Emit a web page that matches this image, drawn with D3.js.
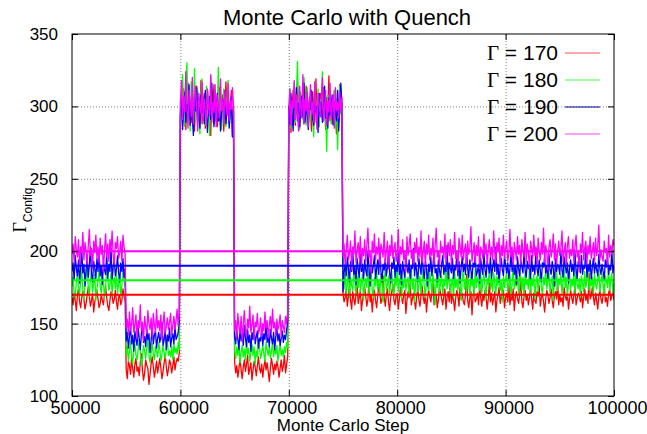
<!DOCTYPE html>
<html><head><meta charset="utf-8">
<script src="https://cdn.jsdelivr.net/npm/d3@7"></script>
<style>body{margin:0;background:#fff;overflow:hidden}</style>
</head><body>
<svg id="c" width="647" height="434"></svg>
<script>
const xStart = 50000, xStep = 100;
const gammas = [170, 180, 190, 200];
const seriesColors = ["#ff0000", "#00ff00", "#0000ff", "#ff00ff"];
const legendColors = ["#ff5050", "#40ff40", "#0000a0", "#ff40ff"];
const xTicks = [50000, 60000, 70000, 80000, 90000, 100000];
const yTicks = [100, 150, 200, 250, 300, 350];

const red170 = [
168,163,171,166,159,170,174,165,161,168, 172,167,160,164,170,175,169,162,166,171, 158,165,169,173,167,161,164,170,166,163, 171,176,168,162,159,166,172,169,164,167, 173,165,160,168,170,163,166,174,169,165,
118,112,124,121,115,127,119,113,122,126, 117,120,114,123,129,118,111,116,125,121, 119,108,115,122,127,120,113,118,124,116, 121,126,119,112,117,123,128,120,114,119, 125,122,116,121,127,118,123,126,124,130,
296,308,287,312,299,284,305,316,293,301, 289,310,298,283,306,314,291,300,295,318, 288,303,309,285,297,311,294,302,280,307, 299,315,290,304,286,301,313,296,292,308, 283,300,317,294,305,289,298,311,279,300,
124,116,121,113,119,126,118,112,120,125, 117,122,128,115,119,123,111,118,124,120, 114,121,127,119,116,122,113,120,125,118, 123,117,110,119,126,121,115,122,118,124, 120,113,119,125,117,121,128,116,122,127,
290,305,282,298,311,294,287,303,316,299, 285,308,293,301,288,296,314,302,291,306, 297,283,310,300,289,319,295,304,286,309, 298,292,313,301,284,306,296,321,290,303, 288,299,311,294,281,305,297,315,300,302,
171,165,168,174,162,169,176,166,160,172, 167,163,170,178,164,168,173,159,166,171, 175,169,162,167,180,165,170,158,168,173, 166,161,169,176,171,164,167,183,168,162, 170,174,165,159,168,172,177,166,163,169,
171,160,167,175,168,164,170,173,157,166, 172,168,179,163,167,171,165,160,169,174, 166,162,170,176,168,164,171,158,167,173, 169,165,172,181,163,168,170,161,166,175, 171,167,163,169,174,160,168,172,165,177,
164,170,166,159,168,173,169,162,175,167, 171,165,163,170,184,166,161,168,172,156, 169,174,165,167,171,163,176,168,162,170, 166,173,169,160,167,178,165,171,163,168, 172,158,166,170,175,164,169,167,173,161,
168,171,165,177,163,170,166,174,159,168, 172,167,164,170,182,165,161,169,173,166, 170,163,168,175,167,160,171,166,164,172, 169,176,162,168,171,165,158,167,173,170, 164,168,174,166,161,169,172,167,179,163,
170,165,168,162,175,169,166,171,160,167, 173,168,164,170,176,163,167,171,169,165, 172,161,168,174,166,170,164,185,167,169, 175,168,163,171,166,160,169,173,167,164, 170,177,165,168,162,171,174,166,169,172,
166
];

const green180 = [
176,182,171,168,179,185,174,170,180,188, 173,167,177,183,190,175,169,181,186,172, 178,184,166,174,180,187,176,171,183,179, 168,175,189,181,173,177,185,170,179,182, 174,186,171,178,183,169,176,188,180,175,
129,134,124,131,138,127,122,133,136,128, 125,132,139,130,121,127,135,131,126,133, 140,128,123,130,136,129,125,134,131,127, 137,132,124,129,135,130,126,133,138,128, 131,127,134,125,136,130,133,129,137,132,
305,291,322,298,286,314,330,295,308,283, 317,300,292,326,289,303,311,296,281,309, 319,293,302,287,314,298,306,280,321,294, 300,288,311,303,295,327,290,307,284,299, 312,296,286,305,318,292,301,289,296,272,
131,126,134,128,137,123,130,135,127,132, 125,138,129,133,124,130,136,128,134,122, 131,127,139,133,126,130,135,129,124,137, 132,128,134,126,131,138,127,133,129,135, 124,130,136,128,132,127,134,130,137,133,
298,312,285,303,293,316,289,307,331,296, 284,310,299,291,320,304,287,313,295,301, 289,308,297,279,317,302,292,312,286,305, 299,324,290,303,294,269,308,297,315,288, 302,293,311,286,305,270,298,314,295,303,
180,174,185,171,177,190,168,182,176,173, 186,179,170,183,175,188,172,178,184,166, 177,181,175,192,170,179,185,173,168,182, 176,189,174,180,171,184,178,165,181,187, 173,177,183,170,179,186,174,169,182,176,
191,172,178,184,167,180,175,187,173,179, 182,170,176,188,174,181,165,178,185,172, 177,183,170,180,189,175,168,182,176,173, 186,179,171,184,177,163,181,175,188,172, 178,183,169,180,176,190,174,179,185,171,
177,182,168,186,175,180,173,184,178,166, 181,187,174,179,172,185,177,170,183,176, 180,169,188,175,182,178,173,186,171,179, 184,176,167,181,177,190,174,180,172,185, 178,170,183,176,188,173,179,165,182,175,
181,186,172,178,184,169,177,191,174,180, 176,183,170,187,179,173,182,168,185,177, 179,174,189,171,181,176,184,167,178,183, 172,180,186,175,170,182,177,188,174,179, 185,171,178,183,166,180,176,187,173,181,
177,184,170,179,192,175,182,169,178,186, 173,180,176,184,171,188,177,174,181,168, 183,178,172,186,175,180,189,173,179,176, 182,170,185,177,174,181,187,172,178,184, 176,169,183,180,175,190,173,179,185,171,
178
];

const blue190 = [
186,192,180,197,188,183,194,178,189,200, 185,191,176,187,196,182,190,203,184,179, 193,188,181,195,186,199,183,190,177,192, 187,184,198,181,191,186,202,180,189,194, 183,188,197,185,179,192,186,195,182,188,
138,144,133,141,148,136,142,131,145,139, 135,147,140,132,143,150,137,141,134,146, 139,143,130,138,149,136,142,145,133,140, 144,137,141,151,135,139,146,132,142,138, 147,134,140,143,136,148,139,141,144,152,
293,305,284,298,310,289,301,296,315,287, 302,292,280,306,297,313,290,299,285,308, 296,303,288,311,294,282,300,307,291,316, 298,286,304,293,309,290,300,283,297,305, 292,311,288,299,302,285,296,307,279,297,
141,136,145,139,132,147,138,143,135,149, 140,134,146,137,142,131,144,139,148,136, 141,145,133,140,138,147,135,143,139,150, 137,142,134,146,140,136,144,132,141,147, 138,143,135,140,145,137,142,139,146,151,
300,288,309,294,283,305,297,313,290,302, 286,298,307,293,316,289,301,295,284,304, 298,311,291,287,306,296,300,282,309,293, 303,289,297,314,292,301,285,306,294,299, 308,287,303,296,290,311,283,298,316,302,
172,185,191,183,196,188,179,193,186,201, 184,190,177,195,188,182,198,186,191,180, 194,187,183,199,189,176,192,185,190,197, 181,188,194,184,203,186,179,191,187,195, 183,189,200,185,178,192,188,196,182,190,
186,199,184,191,177,193,187,182,197,189, 185,194,180,190,188,202,183,192,186,179, 195,189,184,198,187,181,193,188,176,191, 186,196,183,190,200,185,188,179,194,187, 182,191,197,184,189,186,204,180,192,188,
185,195,181,190,187,199,183,193,178,189, 196,186,191,184,201,188,182,194,187,180, 192,189,197,183,186,191,178,195,188,184, 199,187,182,193,190,185,196,181,189,194, 186,203,184,191,179,188,195,187,183,197,
190,185,192,181,188,199,186,193,184,190, 177,196,188,183,194,189,185,200,187,182, 193,188,191,180,197,186,190,184,202,188, 183,194,187,179,192,189,196,185,190,181, 198,187,184,193,188,176,195,186,191,189,
184,200,187,182,196,190,185,192,178,188, 194,186,191,183,199,187,181,193,189,185, 197,184,190,188,203,182,191,186,194,180, 189,195,185,192,187,183,198,188,184,191, 186,180,194,189,196,184,190,187,201,185,
190
];

const magenta200 = [
198,205,192,210,201,196,208,189,203,199, 213,194,206,200,191,204,215,197,202,188, 207,199,211,195,203,192,209,198,204,186, 201,212,196,205,193,208,200,214,197,191, 206,202,210,195,199,207,193,211,203,198,
147,153,142,158,145,150,161,144,149,156, 140,152,147,163,145,151,138,155,148,143, 159,150,146,154,141,157,149,144,160,147, 152,145,156,139,150,158,143,148,154,146, 151,157,142,149,155,146,152,160,148,157,
302,318,291,307,296,324,299,285,311,304, 293,320,288,306,314,297,283,309,301,295, 317,290,305,298,287,312,300,294,322,289, 303,296,315,286,308,299,292,319,297,305, 288,311,301,294,316,290,304,298,313,300,
145,152,140,157,148,143,155,138,150,159, 146,141,153,147,162,144,149,156,139,151, 148,157,143,146,154,141,150,145,158,147, 152,140,149,155,144,160,147,151,142,153, 146,149,156,141,152,148,144,155,150,158,
296,312,287,304,299,318,291,308,295,283, 314,300,292,322,288,305,297,310,286,301, 315,294,303,289,317,298,284,309,302,293, 306,320,290,299,311,287,304,296,316,291, 300,308,285,313,297,303,292,310,298,306,
196,205,190,201,211,194,199,207,187,203, 198,214,192,200,206,195,210,189,202,197, 208,193,204,216,196,200,185,207,199,212, 194,203,198,209,190,205,201,196,213,192, 200,207,188,204,197,211,195,202,206,193,
199,215,191,203,198,208,194,200,186,210, 197,204,212,195,201,190,206,199,209,193, 203,196,214,192,200,207,188,205,198,211, 194,202,197,209,191,204,216,196,200,189, 207,199,203,195,212,192,201,206,197,208,
190,204,198,213,195,200,187,209,203,196, 211,194,201,205,191,207,198,202,217,193, 199,206,192,204,197,210,188,203,200,195, 212,198,205,190,201,208,196,203,194,214, 199,192,206,200,209,187,204,197,211,195,
202,207,193,199,215,196,203,189,206,201, 194,210,198,204,191,208,200,196,213,193, 205,199,188,207,202,195,211,197,203,190, 209,200,194,206,198,216,192,204,199,187, 203,208,196,201,212,194,205,190,200,207,
197,202,214,193,199,206,189,204,210,195, 201,197,208,192,203,211,196,200,186,205, 199,213,194,202,207,191,204,198,210,195, 200,206,193,209,197,203,218,194,201,196, 193,207,199,202,189,211,196,204,198,208,
204
];

const allSeries = [red170, green180, blue190, magenta200];

const svg = d3.select("#c");
const m = {l: 72, r: 614, t: 34, b: 396};
const x = d3.scaleLinear().domain([50000, 100000]).range([m.l, m.r]);
const y = d3.scaleLinear().domain([100, 350]).range([m.b, m.t]);
const font = "'Liberation Sans', Arial, Helvetica, sans-serif";
const serif = "'Liberation Serif', 'Times New Roman', serif";

// grid
const gridX = svg.append("g").attr("transform", `translate(0,${m.b})`)
  .call(d3.axisBottom(x).tickValues(xTicks.slice(1, -1)).tickSize(-(m.b - m.t)).tickFormat(""));
const gridY = svg.append("g").attr("transform", `translate(${m.l},0)`)
  .call(d3.axisLeft(y).tickValues(yTicks.slice(1, -1)).tickSize(-(m.r - m.l)).tickFormat(""));
[gridX, gridY].forEach(g => {
  g.select(".domain").remove();
  g.selectAll("line").attr("stroke", "#808080").attr("stroke-width", 1).attr("stroke-dasharray", "1,2");
});

// data lines
svg.append("clipPath").attr("id", "pc").append("rect")
  .attr("x", m.l).attr("y", m.t).attr("width", m.r - m.l).attr("height", m.b - m.t);
const line = d3.line().x((d, i) => x(xStart + i * xStep)).y(d => y(d));
const plot = svg.append("g").attr("clip-path", "url(#pc)");
allSeries.forEach((s, k) => {
  plot.append("path").datum(s).attr("d", line).attr("fill", "none")
    .attr("stroke", seriesColors[k]).attr("stroke-width", 1.3).attr("stroke-linejoin", "round");
});
gammas.forEach((g, k) => {
  plot.append("line").attr("x1", x(50000)).attr("x2", x(100000)).attr("y1", y(g)).attr("y2", y(g))
    .attr("stroke", seriesColors[k]).attr("stroke-width", 2);
});

// ticks (inward, mirrored)
const tl = 6;
const axB = svg.append("g").attr("transform", `translate(0,${m.b})`)
  .call(d3.axisBottom(x).tickValues(xTicks).tickSize(-tl).tickPadding(5).tickFormat(d3.format("d")));
axB.selectAll("text").attr("dx", 3).attr("font-size", 18);
const axT = svg.append("g").attr("transform", `translate(0,${m.t})`)
  .call(d3.axisTop(x).tickValues(xTicks).tickSize(-tl).tickFormat(""));
const axL = svg.append("g").attr("transform", `translate(${m.l},0)`)
  .call(d3.axisLeft(y).tickValues(yTicks).tickSize(-tl).tickPadding(tl + 8).tickFormat(d3.format("d")));
axL.selectAll("text").attr("font-size", 17);
const axR = svg.append("g").attr("transform", `translate(${m.r},0)`)
  .call(d3.axisRight(y).tickValues(yTicks).tickSize(-tl).tickFormat(""));
[axB, axT, axL, axR].forEach(g => {
  g.select(".domain").remove();
  g.attr("font-size", null);
  g.selectAll("line").attr("stroke", "#000");
  g.selectAll("text").attr("font-family", font).attr("fill", "#000");
});

// frame
svg.append("rect").attr("x", m.l).attr("y", m.t).attr("width", m.r - m.l).attr("height", m.b - m.t)
  .attr("fill", "none").attr("stroke", "#000").attr("stroke-width", 1);

// title and labels
svg.append("text").attr("x", 347).attr("y", 25).attr("text-anchor", "middle")
  .attr("font-family", font).attr("font-size", 22).text("Monte Carlo with Quench");
svg.append("text").attr("x", 343).attr("y", 431).attr("text-anchor", "middle")
  .attr("font-family", font).attr("font-size", 17).text("Monte Carlo Step");
const yl = svg.append("text").attr("transform", "translate(26,210) rotate(-90)").attr("text-anchor", "middle")
  .attr("font-family", font);
yl.append("tspan").attr("font-family", serif).attr("font-size", 18).text("Γ");
yl.append("tspan").attr("font-size", 12).attr("dy", 6).text("Config");

// legend
gammas.forEach((g, k) => {
  const yy = 53 + k * 27;
  const t = svg.append("text").attr("x", 558).attr("y", yy + 7).attr("text-anchor", "end")
    .attr("font-family", font).attr("font-size", 21);
  t.append("tspan").attr("font-family", serif).text("Γ");
  t.append("tspan").text(" = " + g);
  svg.append("line").attr("x1", 565).attr("x2", 600).attr("y1", yy).attr("y2", yy)
    .attr("stroke", legendColors[k]).attr("stroke-width", 1.2);
});
</script>
</body></html>
